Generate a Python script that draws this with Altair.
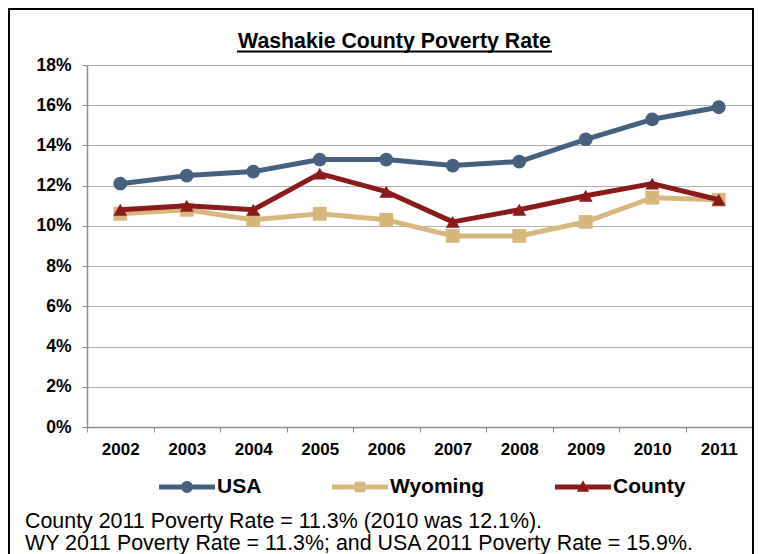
import altair as alt
import pandas as pd

# ---- data ----
years = ["2002", "2003", "2004", "2005", "2006", "2007", "2008", "2009", "2010", "2011"]
usa = [12.1, 12.5, 12.7, 13.3, 13.3, 13.0, 13.2, 14.3, 15.3, 15.9]
wyoming = [10.6, 10.8, 10.3, 10.6, 10.3, 9.5, 9.5, 10.2, 11.4, 11.3]
county = [10.8, 11.0, 10.8, 12.6, 11.7, 10.2, 10.8, 11.5, 12.1, 11.3]
series_names = ["USA", "Wyoming", "County"]
series_colors = ["#46607F", "#D8B77D", "#8B1A1A"]
series_shapes = ["circle", "square", "triangle-up"]
y_ticks = [0, 2, 4, 6, 8, 10, 12, 14, 16, 18]
title_text = "Washakie County Poverty Rate"
footnote_lines = [
    "County 2011 Poverty Rate = 11.3% (2010 was 12.1%).",
    "WY 2011 Poverty Rate = 11.3%; and USA 2011 Poverty Rate = 15.9%.",
]

# legend glyphs: a thick line with the series marker in the middle
legend_paths = [
    "M-1,-0.09L1,-0.09L1,0.09L-1,0.09Z M0.21,0A0.21,0.21 0 1,1 -0.21,0A0.21,0.21 0 1,1 0.21,0Z",
    "M-1,-0.09L1,-0.09L1,0.09L-1,0.09Z M-0.19,-0.19L0.19,-0.19L0.19,0.19L-0.19,0.19Z",
    "M-1,-0.09L1,-0.09L1,0.09L-1,0.09Z M0,-0.24L0.22,0.17L-0.22,0.17Z",
]

rows = []
for name, vals in zip(series_names, [usa, wyoming, county]):
    for yr, v in zip(years, vals):
        rows.append({"year": yr, "series": name, "value": v})
df = pd.DataFrame(rows)
one = pd.DataFrame({"k": [0]})

FONT = "Liberation Sans"
AX = "#8c8c8c"

x_enc = alt.X(
    "year:O",
    bandPosition=0.5,
    scale=alt.Scale(type="band", paddingInner=0, paddingOuter=0),
    axis=alt.Axis(
        title=None, labelAngle=0, labelFont=FONT, labelFontSize=17,
        labelFontWeight="bold", labelColor="black", labelPadding=9,
        tickBand="extent", tickSize=5, tickColor=AX, domainColor=AX,
        domainWidth=1.5, grid=False,
    ),
)
y_enc = alt.Y(
    "value:Q",
    scale=alt.Scale(domain=[0, 18]),
    axis=alt.Axis(
        title=None, values=y_ticks, labelExpr="datum.value + '%'",
        labelFont=FONT, labelFontSize=17.5, labelFontWeight="bold",
        labelColor="black", labelPadding=11, tickSize=5, tickColor=AX,
        domainColor=AX, domainWidth=1.5, gridColor="#b0b0b0", gridWidth=1,
    ),
)

layers = []
for name, shape, col in zip(series_names, series_shapes, series_colors):
    base = alt.Chart(df).transform_filter(alt.datum.series == name)
    layers.append(
        base.mark_line(strokeWidth=5, strokeJoin="round", color=col).encode(x=x_enc, y=y_enc)
    )
    layers.append(
        base.mark_point(filled=True, opacity=1, shape=shape, size=190, color=col).encode(
            x=x_enc, y=y_enc
        )
    )

leg = dict(
    orient="none", legendX=72, legendY=394, direction="horizontal", title=None,
    labelFont=FONT, labelFontSize=21, labelFontWeight="bold", labelColor="black",
    symbolSize=3136, symbolOpacity=1, symbolStrokeWidth=0, columnPadding=70,
    labelOffset=2,
)
legend_layer = alt.Chart(df).mark_point(filled=True, opacity=0).encode(
    x=x_enc, y=y_enc,
    color=alt.Color("series:N", scale=alt.Scale(domain=series_names, range=series_colors),
                    legend=alt.Legend(**leg)),
    shape=alt.Shape("series:N", scale=alt.Scale(domain=series_names, range=legend_paths),
                    legend=alt.Legend(**leg)),
)
layers.append(legend_layer)

title_layer = alt.Chart(one).mark_text(
    text=title_text, font=FONT, fontSize=21.3, fontWeight="bold", color="black",
    align="center", baseline="alphabetic",
).encode(x=alt.value(307.5), y=alt.value(-17))
underline = alt.Chart(one).mark_rule(color="black", strokeWidth=2).encode(
    x=alt.value(150), x2=alt.value(465), y=alt.value(-13.5)
)
footnote = alt.Chart(one).mark_text(
    text=footnote_lines, font=FONT, fontSize=21.4, color="black",
    align="left", baseline="alphabetic", lineHeight=22,
).encode(x=alt.value(-62), y=alt.value(463))
border = alt.Chart(one).mark_rect(
    fillOpacity=0, stroke="black", strokeWidth=2
).encode(x=alt.value(-78), x2=alt.value(666), y=alt.value(-56), y2=alt.value(600))

chart = alt.layer(*layers, title_layer, underline, footnote, border).properties(
    width=665, height=362,
    padding={"left": 79, "top": 57, "right": 2, "bottom": 127},
    autosize=alt.AutoSizeParams(type="none"),
).configure_view(stroke=None)

chart.save("out.html", embed_options={"renderer": "svg", "actions": False})
